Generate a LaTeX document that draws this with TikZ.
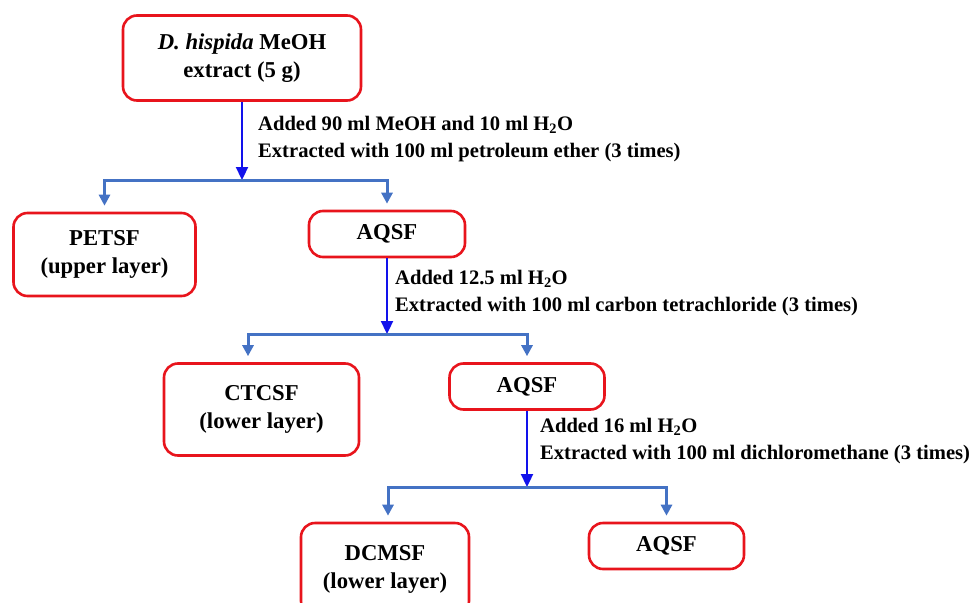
\documentclass[tikz,border=0pt]{standalone}
\usepackage{fontspec}
\setmainfont{Liberation Serif}
\usetikzlibrary{arrows.meta, positioning, calc}

\definecolor{boxred}{RGB}{232,20,28}
\definecolor{flowblue}{RGB}{18,18,235}
\definecolor{forkblue}{RGB}{68,114,196}

\begin{document}
\begin{tikzpicture}[
    x=1pt, y=-1pt,
    every node/.style={font=\fontsize{22.7}{28}\selectfont\bfseries},
    block/.style={draw=boxred, line width=2.6pt, rounded corners=14pt, fill=white, align=center, inner sep=0pt},
    arr/.style={-{Triangle[width=12pt, length=13pt]}, flowblue, line width=2.3pt},
    fork/.style={-{Triangle[width=11pt, length=11pt]}, forkblue, line width=3pt, shorten >=6pt},
    note/.style={anchor=west, align=left, inner sep=0pt, font=\fontsize{20.6}{27.5}\selectfont\bfseries},
]
    \useasboundingbox (0,0) rectangle (971,602);

    % Top: crude extract
    \node[block, minimum width=238pt, minimum height=85pt] (crude) at (242,58) {\textit{D. hispida} MeOH\\extract (5 g)};

    % Step 1: petroleum ether
    \node[block, minimum width=182pt, minimum height=83pt] (petsf) at (104.5,254.5) {PETSF\\(upper layer)};
    \node[block, minimum width=156pt, minimum height=46pt] (aqsfa) at (387,234) {AQSF};

    % Step 2: carbon tetrachloride
    \node[block, minimum width=195pt, minimum height=92pt] (ctcsf) at (261.5,409.5) {CTCSF\\(lower layer)};
    \node[block, minimum width=155pt, minimum height=46pt] (aqsfb) at (527,386.5) {AQSF};

    % Step 3: dichloromethane
    \node[block, minimum width=168pt, minimum height=92pt] (dcmsf) at (385,569) {DCMSF\\(lower layer)};
    \node[block, minimum width=155pt, minimum height=46pt] (aqsfc) at (666.5,546) {AQSF};

    % Fork points
    \coordinate (fork1) at (244,180);
    \coordinate (fork2) at (387.5,334);
    \coordinate (fork3) at (527.5,487);

    % Arrows with labels
    \draw[arr] (crude) -- (crude |- fork1);
    \node[note] (step1) at (258,139) {Added 90 ml MeOH and 10 ml H\textsubscript{2}O\\Extracted with 100 ml petroleum ether (3 times)};
    \draw[fork] (fork1) -| (petsf);
    \draw[fork] (fork1) -| (aqsfa);

    \draw[arr] (aqsfa) -- (aqsfa |- fork2);
    \node[note] (step2) at (395,293) {Added 12.5 ml H\textsubscript{2}O\\Extracted with 100 ml carbon tetrachloride (3 times)};
    \draw[fork] (fork2) -| ([xshift=-13.5pt]ctcsf.north);
    \draw[fork] (fork2) -| (aqsfb);

    \draw[arr] (aqsfb) -- (aqsfb |- fork3);
    \node[note] (step3) at (540,441) {Added 16 ml H\textsubscript{2}O\\Extracted with 100 ml dichloromethane (3 times)};
    \draw[fork] (fork3) -| ([xshift=3pt]dcmsf.north);
    \draw[fork] (fork3) -| (aqsfc);
\end{tikzpicture}
\end{document}
